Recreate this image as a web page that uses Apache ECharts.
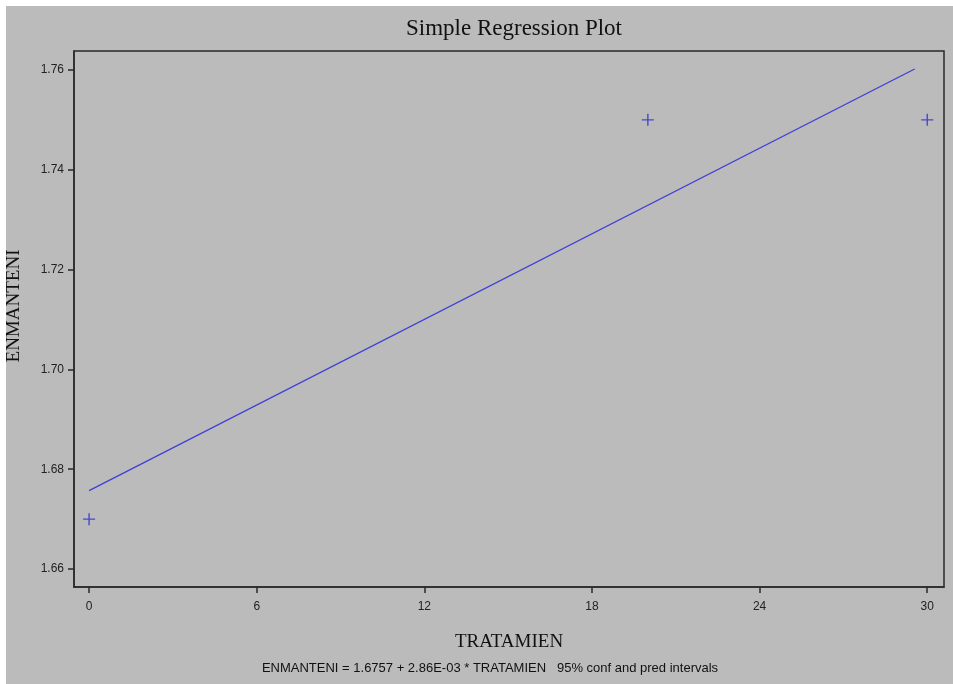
<!DOCTYPE html>
<html>
<head>
<meta charset="utf-8">
<script src="https://cdn.jsdelivr.net/npm/echarts@6/dist/echarts.min.js"></script>
<style>
html,body{margin:0;padding:0;background:#ffffff;width:953px;height:684px;overflow:hidden;}
#chart{position:absolute;left:6px;top:6px;width:947px;height:678px;}
</style>
</head>
<body>
<div id="chart"></div>
<script>
// Data
var tratamien = [0, 20, 30];
var enmanteni = [1.67, 1.75, 1.75];
var fitX = [0, 29.55];
var fitY = [1.6757, 1.7602];
var xTicks = [0, 6, 12, 18, 24, 30];
var yTicks = [1.66, 1.68, 1.70, 1.72, 1.74, 1.76];

var points = tratamien.map(function (x, i) { return [x, enmanteni[i]]; });
var fitLine = fitX.map(function (x, i) { return [x, fitY[i]]; });

var chart = echarts.init(document.getElementById('chart'));
var tickFont = {fontFamily: 'Liberation Sans, Arial, sans-serif', fontSize: 12, color: '#222'};
chart.setOption({
  backgroundColor: '#bbbbbb',
  animation: false,
  title: [
    {text: 'Simple Regression Plot', left: 503, top: 6, textAlign: 'center',
     textStyle: {fontFamily: 'Liberation Serif, Times New Roman, serif', fontSize: 23, fontWeight: 'normal', color: '#111'}},
    {text: 'ENMANTENI = 1.6757 + 2.86E-03 * TRATAMIEN   95% conf and pred intervals', left: 479, top: 651, textAlign: 'center',
     textStyle: {fontFamily: 'Liberation Sans, Arial, sans-serif', fontSize: 13, fontWeight: 'normal', color: '#111'}}
  ],
  graphic: [
    {type: 'text', x: 8, y: 300, rotation: Math.PI / 2,
     style: {text: 'ENMANTENI', font: '19px "Liberation Serif", "Times New Roman", serif', fill: '#111', align: 'center', verticalAlign: 'middle'}}
  ],
  grid: {left: 68, top: 45, right: 9, bottom: 97, show: true, borderColor: '#2a2a2a', borderWidth: 1.5, backgroundColor: 'transparent'},
  xAxis: {
    type: 'value', min: -0.54, max: 30.6,
    name: 'TRATAMIEN', nameLocation: 'middle', nameGap: 55,
    nameTextStyle: {fontFamily: 'Liberation Serif, Times New Roman, serif', fontSize: 19, color: '#111', verticalAlign: 'middle'},
    axisLine: {show: true, onZero: false, lineStyle: {color: '#2a2a2a', width: 1.5}},
    axisTick: {show: true, length: 6, customValues: xTicks, lineStyle: {color: '#2a2a2a', width: 1.5}},
    axisLabel: Object.assign({margin: 14, customValues: xTicks}, tickFont),
    splitLine: {show: false}
  },
  yAxis: {
    type: 'value', min: 1.6564, max: 1.7638,
    axisLine: {show: true, onZero: false, lineStyle: {color: '#2a2a2a', width: 1.5}},
    axisTick: {show: true, length: 6, customValues: yTicks, lineStyle: {color: '#2a2a2a', width: 1.5}},
    axisLabel: Object.assign({margin: 10, customValues: yTicks, formatter: function (v) { return v.toFixed(2); }}, tickFont),
    splitLine: {show: false}
  },
  series: [
    {type: 'line', data: fitLine, showSymbol: false, symbol: 'none',
     lineStyle: {color: '#3f3fd8', width: 1.3}, z: 2},
    {type: 'scatter', data: points, symbol: 'path://M0,6L12,6M6,0L6,12', symbolSize: 12,
     itemStyle: {color: 'none', borderColor: '#2a2ad0', borderWidth: 1.4}, z: 3}
  ]
});
</script>
</body>
</html>
